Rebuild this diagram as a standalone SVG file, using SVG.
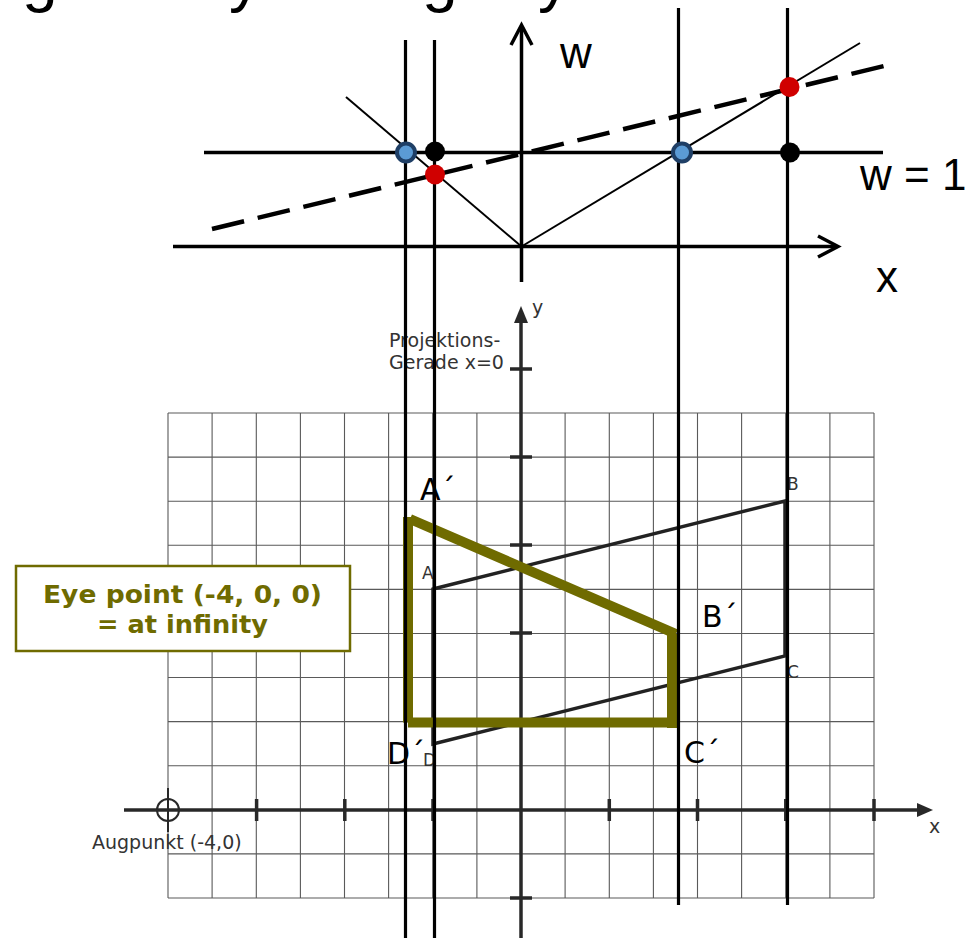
<svg xmlns="http://www.w3.org/2000/svg" width="980" height="938" viewBox="0 0 980 938">
<style>
.grid{stroke:#5a5a5a;stroke-width:1.1;fill:none}
.ax{stroke:#282828;stroke-width:3.5;fill:none}
.tk{stroke:#282828;stroke-width:3.5}
.lbl{font-family:"DejaVu Sans",Verdana,sans-serif;font-size:17px;fill:#333}
.lbl2{font-family:"DejaVu Sans",Verdana,sans-serif;font-size:19px;fill:#333}
.big{font-family:"DejaVu Sans",Verdana,sans-serif;font-size:30px;fill:#000}
.cal{font-family:"Liberation Sans",Arial,sans-serif;font-size:44px;fill:#000}
.olive{stroke:#6f6b00;stroke-width:10;fill:none}
.boxt{font-family:"DejaVu Sans",Verdana,sans-serif;font-size:25.5px;font-weight:bold;fill:#6f6b00}
.proj{stroke:#000;stroke-width:3.2}
.thin{stroke:#000;stroke-width:2;fill:none}
.blue{fill:#5b9bd5;stroke:#1f3f66;stroke-width:4}
.blk{fill:#000}
.red{fill:#d00000}
</style>
<rect width="980" height="938" fill="#fff"/>
<text x="22 229 422 538" y="0" style="font-family:'Liberation Sans',Arial,sans-serif;font-size:64px;fill:#000">gygy</text>
<g id="grid">
<path class="grid" d="M168,413V898M212.1,413V898M256.3,413V898M300.4,413V898M344.5,413V898M388.6,413V898M432.8,413V898M476.9,413V898M521,413V898M565.1,413V898M609.3,413V898M653.4,413V898M697.5,413V898M741.6,413V898M785.8,413V898M829.9,413V898M874,413V898M168,413H874M168,457.1H874M168,501.2H874M168,545.3H874M168,589.4H874M168,633.5H874M168,677.5H874M168,721.6H874M168,765.7H874M168,809.8H874M168,853.9H874M168,898H874"/>
</g>
<g id="axes-xy">
<line class="ax" x1="124" y1="810" x2="919" y2="810"/>
<polygon points="933,810 917,803 917,817" fill="#282828"/>
<line class="ax" x1="521" y1="938" x2="521" y2="321"/>
<polygon points="521,306 514,323 528,323" fill="#282828"/>
<path class="tk" d="M256.6,799V821M344.8,799V821M433,799V821M609.3,799V821M697.5,799V821M785.8,799V821M874,799V821M510,369H532M510,457H532M510,545H532M510,633H532M510,721.6H532M510,898H532"/>
<text class="lbl2" x="532" y="314">y</text>
<text class="lbl2" x="929" y="833">x</text>
</g>
<g id="eye-point">
<circle cx="168" cy="810" r="11" fill="none" stroke="#282828" stroke-width="2"/>
<line x1="168" y1="788" x2="168" y2="832" stroke="#282828" stroke-width="2"/>
<text class="lbl2" x="92" y="849">Augpunkt (-4,0)</text>
</g>
<g id="projection-line-label">
<text class="lbl2" x="389" y="347">Projektions-</text>
<text class="lbl2" x="389" y="369">Gerade x=0</text>
</g>
<g id="polygon-ABCD">
<polygon points="433,589 785,501 785,656 433,744" fill="none" stroke="#222" stroke-width="3.5"/>
<text class="lbl" x="422" y="579">A</text>
<text class="lbl" x="787" y="490">B</text>
<text class="lbl" x="787" y="678">C</text>
<text class="lbl" x="423" y="766">D</text>
</g>
<g id="polygon-projected">
<path class="olive" d="M408,517V722.5M408,722.5H673M672,634V728M410,519L676,634"/>
<text class="big" x="420" y="500">A´</text>
<text class="big" x="702" y="627">B´</text>
<text class="big" x="684" y="763">C´</text>
<text class="big" x="387" y="764">D´</text>
</g>
<g id="eye-box">
<rect x="16" y="566" width="334" height="85" fill="#fff" stroke="#6f6b00" stroke-width="2.5"/>
<text class="boxt" x="43" y="603" textLength="279" lengthAdjust="spacingAndGlyphs">Eye point (-4, 0, 0)</text>
<text class="boxt" x="97" y="633" textLength="171" lengthAdjust="spacingAndGlyphs">= at infinity</text>
</g>
<g id="connectors">
<line class="proj" x1="405.5" y1="40" x2="405.5" y2="938"/>
<line class="proj" x1="434.5" y1="40" x2="434.5" y2="938"/>
<line class="proj" x1="678.5" y1="8" x2="678.5" y2="905"/>
<line class="proj" x1="787.5" y1="8" x2="787.5" y2="905"/>
</g>
<g id="top-diagram">
<line x1="173" y1="246.5" x2="837" y2="246.5" stroke="#000" stroke-width="3.5"/>
<polyline points="818,236 838,246.5 818,257" fill="none" stroke="#000" stroke-width="3.5"/>
<line x1="521.5" y1="26" x2="521.5" y2="282" stroke="#000" stroke-width="3.5"/>
<polyline points="511,45 521.5,25 532,45" fill="none" stroke="#000" stroke-width="3.5"/>
<line x1="204" y1="152.5" x2="883" y2="152.5" stroke="#000" stroke-width="3.5"/>
<line class="thin" x1="346" y1="97" x2="521.5" y2="246.5"/>
<line class="thin" x1="521.5" y1="246.5" x2="860" y2="43"/>
<line x1="212" y1="229" x2="884" y2="66" stroke="#000" stroke-width="4.5" stroke-dasharray="33 14"/>
<text class="cal" x="560" y="68">w</text>
<text class="cal" x="860" y="190">w = 1</text>
<text class="cal" x="876" y="292">x</text>
</g>
<g id="point-blue-left"><circle class="blue" cx="406" cy="152.5" r="9"/></g>
<g id="point-black-left"><circle class="blk" cx="435" cy="151.5" r="10"/></g>
<g id="point-red-left"><circle class="red" cx="435" cy="174.5" r="10"/></g>
<g id="point-blue-right"><circle class="blue" cx="682" cy="152.5" r="9"/></g>
<g id="point-black-right"><circle class="blk" cx="790" cy="152.5" r="10"/></g>
<g id="point-red-right"><circle class="red" cx="789.5" cy="87" r="10"/></g>
</svg>
